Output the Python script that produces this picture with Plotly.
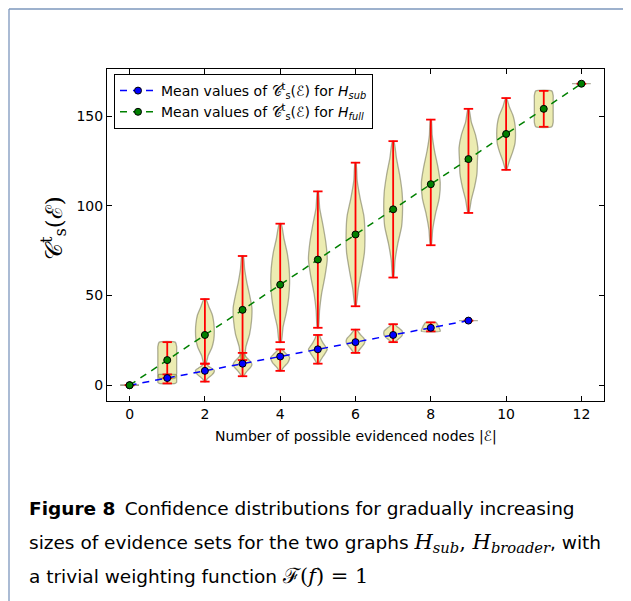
import plotly.graph_objects as go

# ---------------- data ----------------
n_full = list(range(13))
full_mean = [0, 14, 28, 42, 56, 70, 84, 98, 112, 126, 140, 154, 168]
full_min = [0, 4, 12, 14, 24, 32, 44, 60, 78, 96, 120, 144, 168]
full_max = [0, 24, 48, 72, 90, 108, 124, 136, 148, 154, 160, 164, 168]
# relative half-widths of each violin, sampled bottom (min) -> top (max)
full_shape = [
    [1, 1, 1, 1, 1, 1, 1, 1, 1],
    [0.85, 1, 1, 1, 1, 1, 1, 1, 0.85],
    [0.1, 0.35, 0.75, 0.95, 1.0, 0.95, 0.8, 0.45, 0.1],
    [0.15, 0.35, 0.75, 0.95, 1.0, 0.75, 0.45, 0.22, 0.08],
    [0.1, 0.3, 0.65, 0.9, 1.0, 0.95, 0.75, 0.4, 0.1],
    [0.06, 0.18, 0.4, 0.75, 1.0, 0.85, 0.55, 0.2, 0.05],
    [0.05, 0.3, 0.65, 0.95, 1.0, 0.9, 0.5, 0.18, 0.05],
    [0.05, 0.2, 0.5, 0.9, 1.0, 0.95, 0.7, 0.35, 0.08],
    [0.05, 0.2, 0.5, 0.9, 1.0, 0.75, 0.4, 0.15, 0.05],
    [0.05, 0.3, 0.65, 0.9, 0.95, 1.0, 0.75, 0.3, 0.05],
    [0.05, 0.35, 0.7, 0.95, 1.0, 0.95, 0.75, 0.35, 0.05],
    [0.85, 1, 1, 1, 1, 1, 1, 1, 0.85],
    [1, 1, 1, 1, 1, 1, 1, 1, 1],
]

n_sub = list(range(10))
sub_mean = [0, 4, 8, 12, 16, 20, 24, 28, 32, 36]
sub_min = [0, 1, 2, 5, 8, 12, 18, 24, 30, 36]
sub_max = [0, 6, 12, 18, 20, 28, 31, 34, 35, 36]
sub_shape = [
    [1, 1, 1, 1, 1, 1, 1, 1, 1],
    [0.85, 1, 1, 1, 1, 1, 1, 1, 0.85],
    [0.1, 0.2, 0.45, 0.75, 0.95, 1.0, 0.7, 0.35, 0.1],
    [0.1, 0.3, 0.55, 0.85, 1.0, 0.85, 0.55, 0.3, 0.1],
    [0.1, 0.3, 0.55, 0.8, 0.95, 1.0, 0.75, 0.45, 0.15],
    [0.1, 0.3, 0.55, 0.8, 1.0, 0.75, 0.5, 0.3, 0.15],
    [0.15, 0.4, 0.65, 0.9, 1.0, 0.9, 0.6, 0.35, 0.1],
    [0.15, 0.45, 0.75, 0.95, 1.0, 0.95, 0.7, 0.4, 0.15],
    [1.0, 1.0, 0.95, 0.9, 0.85, 0.8, 0.72, 0.65, 0.55],
    [1, 1, 1, 1, 1, 1, 1, 1, 1],
]

x_ticks = [0, 2, 4, 6, 8, 10, 12]
y_ticks = [0, 50, 100, 150]

# ---------------- styling ----------------
VIOLIN_HALF = 0.25
CAP_HALF = 0.125
BODY_FILL = "rgba(191,191,0,0.30)"
BODY_EDGE = "rgba(110,110,80,0.55)"
RED = "#ff0000"

OFF = 8  # page body margin
W, H = 631 - OFF, 601 - OFF
L, R, T, B = 107 - OFF, 27, 69 - OFF, 200
PW, PH = W - L - R, H - T - B


def px(xs):  # screen x -> paper
    return (xs - OFF - L) / PW


def py(ys):  # screen y -> paper
    return (H - B - (ys - OFF)) / PH


fig = go.Figure()


def add_violins(ns, lows, highs, shapes):
    for n, lo, hi, shp in zip(ns, lows, highs, shapes):
        k = len(shp)
        ys = [lo + (hi - lo) * i / (k - 1) for i in range(k)]
        xr = [n + VIOLIN_HALF * w for w in shp]
        xl = [n - VIOLIN_HALF * w for w in shp]
        xs = xr + xl[::-1] + [xr[0]]
        yy = ys + ys[::-1] + [ys[0]]
        fig.add_trace(go.Scatter(
            x=xs, y=yy, mode="lines", fill="toself",
            fillcolor=BODY_FILL,
            line=dict(color=BODY_EDGE, width=1.3, shape="spline", smoothing=0.6),
            showlegend=False, hoverinfo="skip"))


def add_bars(ns, lows, highs):
    xs, ys = [], []
    for n, lo, hi in zip(ns, lows, highs):
        xs += [n, n, None, n - CAP_HALF, n + CAP_HALF, None, n - CAP_HALF, n + CAP_HALF, None]
        ys += [lo, hi, None, lo, lo, None, hi, hi, None]
    fig.add_trace(go.Scatter(x=xs, y=ys, mode="lines",
                             line=dict(color=RED, width=1.8),
                             showlegend=False, hoverinfo="skip"))


add_violins(n_full, full_min, full_max, full_shape)
add_violins(n_sub, sub_min, sub_max, sub_shape)
add_bars(n_full, full_min, full_max)
add_bars(n_sub, sub_min, sub_max)

fig.add_trace(go.Scatter(
    x=n_sub, y=sub_mean, mode="lines+markers",
    name="Mean values of 𝒞<sup>t</sup><sub>s</sub>(ℰ) for <i>H<sub>sub</sub></i>",
    line=dict(color="#0000ff", width=1.5, dash="7px,6px"),
    marker=dict(color="#0000ff", size=7, line=dict(color="black", width=1))))
fig.add_trace(go.Scatter(
    x=n_full, y=full_mean, mode="lines+markers",
    name="Mean values of 𝒞<sup>t</sup><sub>s</sub>(ℰ) for <i>H<sub>full</sub></i>",
    line=dict(color="#008000", width=1.5, dash="7px,6px"),
    marker=dict(color="#008000", size=7, line=dict(color="black", width=1))))

axis_common = dict(showline=True, linecolor="black", linewidth=1, mirror="ticks",
                   ticks="inside", ticklen=5, tickcolor="black", showgrid=False,
                   zeroline=False, tickfont=dict(family="DejaVu Sans", size=14, color="black"))

fig.update_layout(
    width=W, height=H,
    margin=dict(l=L, r=R, t=T, b=B),
    paper_bgcolor="white", plot_bgcolor="white",
    xaxis=dict(range=[-0.6, 12.6], tickvals=x_ticks, **axis_common),
    yaxis=dict(range=[-8.8, 176.2], tickvals=y_ticks, **axis_common),
    legend=dict(x=px(114), y=py(74), xanchor="left", yanchor="top",
                bgcolor="white", bordercolor="black", borderwidth=1,
                font=dict(family="DejaVu Sans", size=14, color="black"),
                tracegroupgap=0, itemwidth=36),
    font=dict(family="DejaVu Sans", color="black"),
)

CAP_FONT = dict(family="DejaVu Sans", size=18.5, color="black")
MATH = "font-family:DejaVu Serif;font-size:21px"
anns = [
    dict(x=px(355.5), y=py(436), text="Number of possible evidenced nodes |ℰ|",
         font=dict(family="DejaVu Sans", size=14, color="black")),
    dict(x=px(53), y=py(228), text="𝒞<sup>t</sup><sub>s</sub>(ℰ)", textangle=-90,
         font=dict(family="DejaVu Serif", size=23, color="black")),
    dict(x=px(27), y=py(508), xanchor="left",
         text="<b>Figure 8</b>\u2002Confidence distributions for gradually increasing",
         font=CAP_FONT),
    dict(x=px(27), y=py(543), xanchor="left",
         text="sizes of evidence sets for the two graphs "
              f"<span style='{MATH}'><i>H<sub>sub</sub></i>, <i>H<sub>broader</sub></i></span>, with",
         font=CAP_FONT),
    dict(x=px(27), y=py(576), xanchor="left",
         text="a trivial weighting function "
              f"<span style='{MATH}'>ℱ(<i>f</i>) = 1</span>",
         font=CAP_FONT),
]
for a in anns:
    a.setdefault("xanchor", "center")
    fig.add_annotation(xref="paper", yref="paper", showarrow=False, yanchor="middle", **a)

# page frame lines
BORDER = "#7d97bd"
fig.add_shape(type="line", xref="paper", yref="paper", x0=px(9), x1=px(9), y0=py(9), y1=py(601),
              line=dict(color=BORDER, width=1.3))
fig.add_shape(type="line", xref="paper", yref="paper", x0=px(9), x1=px(631), y0=py(9), y1=py(9),
              line=dict(color=BORDER, width=1.3))

fig.write_html("out.html")
